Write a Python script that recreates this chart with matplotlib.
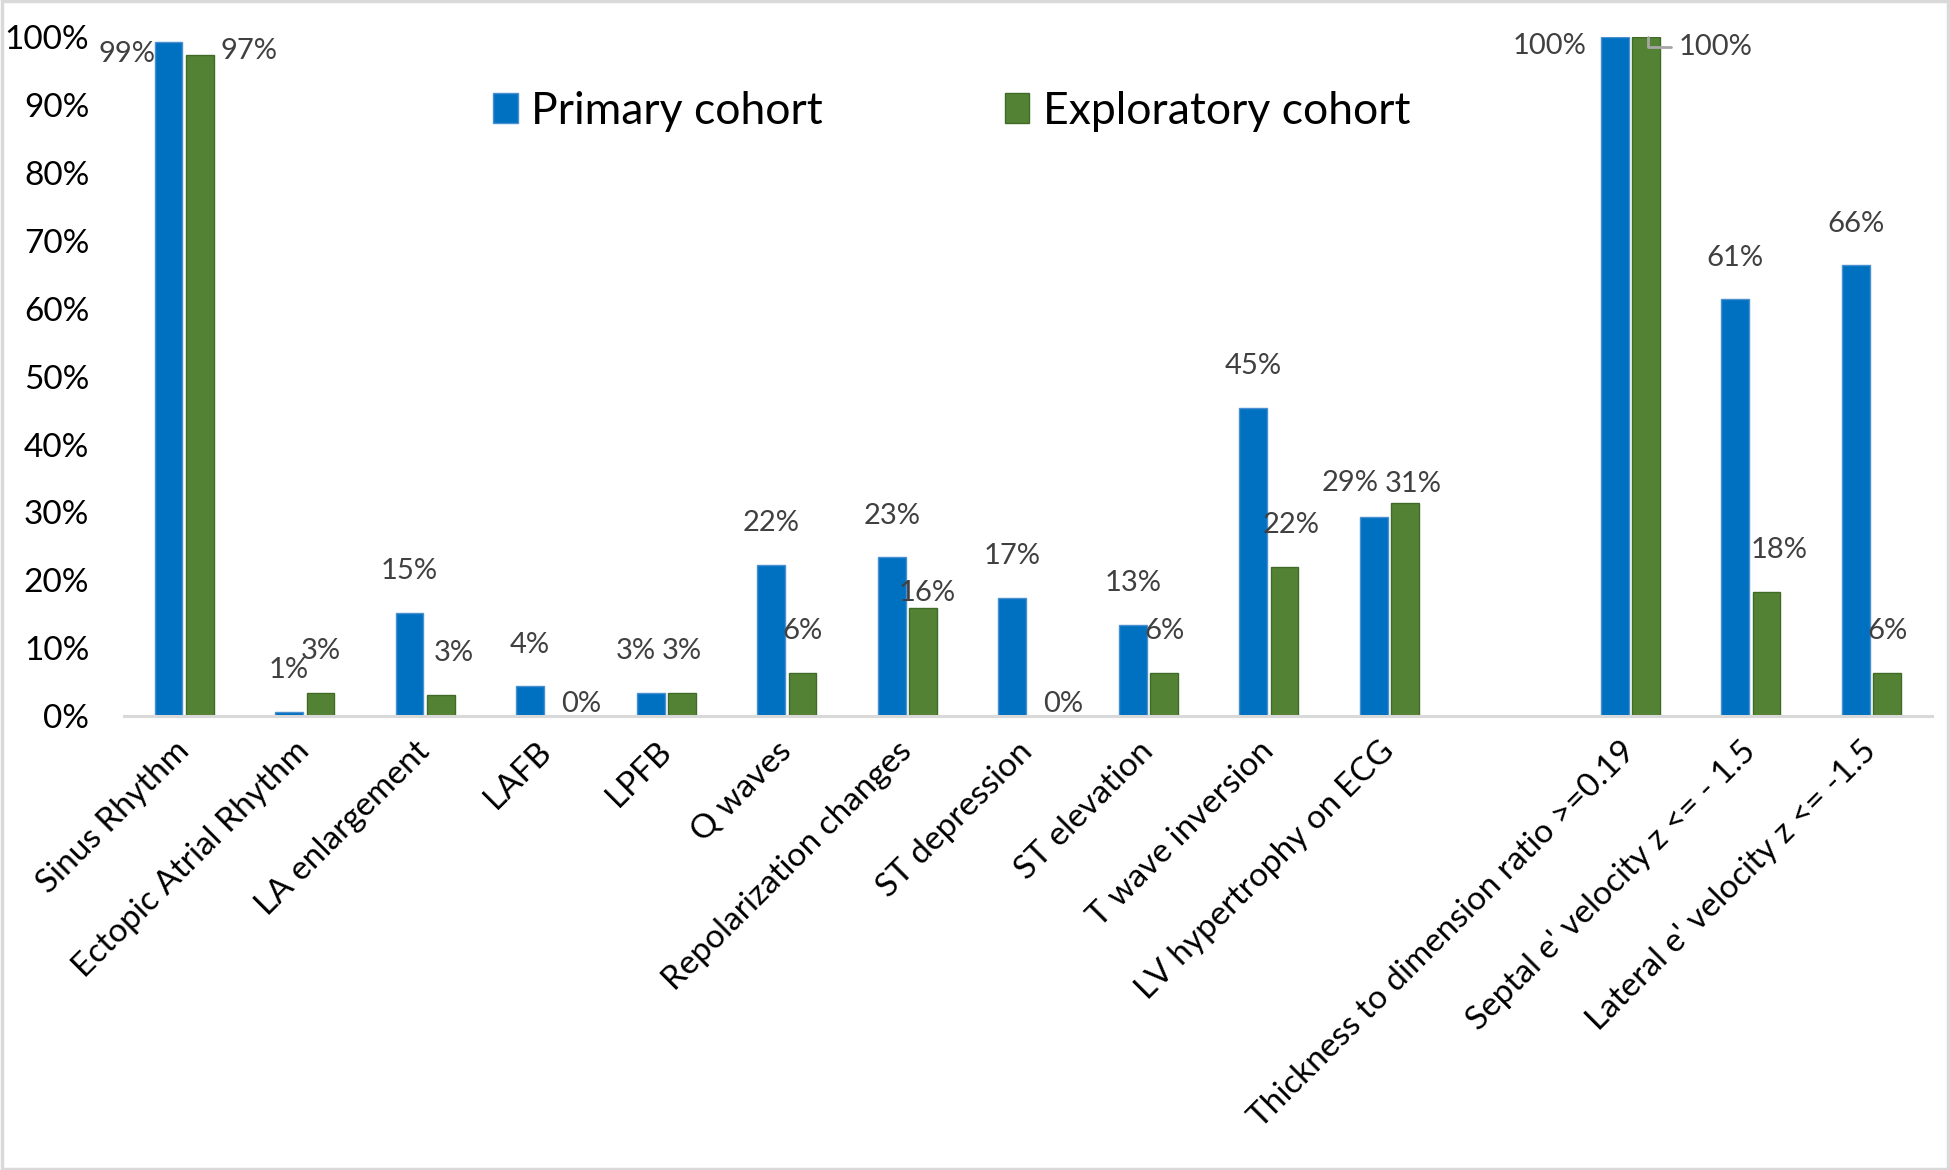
import matplotlib.pyplot as plt
import numpy as np
from matplotlib.patches import Rectangle

categories = [
    "Sinus Rhythm",
    "Ectopic Atrial Rhythm",
    "LA enlargement",
    "LAFB",
    "LPFB",
    "Q waves",
    "Repolarization changes",
    "ST depression",
    "ST elevation",
    "T wave inversion",
    "LV hypertrophy on ECG",
    "",
    "Thickness to dimension ratio >=0.19",
    "Septal e' velocity z <= - 1.5",
    "Lateral e' velocity z <= -1.5",
]
primary = [99.4, 0.6, 15.2, 4.4, 3.4, 22.3, 23.4, 17.4, 13.4, 45.4, 29.4, np.nan, 100.0, 61.4, 66.4]
exploratory = [97.4, 3.4, 3.1, 0.0, 3.4, 6.4, 15.9, 0.0, 6.4, 22.0, 31.4, np.nan, 100.0, 18.3, 6.4]
series_names = ["Primary cohort", "Exploratory cohort"]

BLUE = "#0070C0"
GREEN = "#548235"
LABEL_GREY = "#404040"

# label nudges (points) where Excel moved the label away from the default spot
label_moves = {
    (0, 0): (-30, -9),
    (1, 0): (35, 3),
    (1, 2): (9, 30),
    (1, 3): (14, 9),
    (0, 4): (-11, 30),
    (1, 7): (14, 9),
    (1, 6): (3, 11),
    (0, 10): (-17, 24),
    (1, 10): (6, 14),
    (1, 9): (5, 30),
    (0, 12): (-47, -6),
    (1, 13): (9, 30),
}
leader_label = (1, 12)


def main() -> None:
    plt.rcParams["font.family"] = ["Lato", "DejaVu Sans"]
    fig = plt.figure(figsize=(19.5, 11.7), dpi=100)
    ax = fig.add_axes([0.0636, 0.388, 0.927, 0.580])

    x = np.arange(len(categories))
    width = 0.23
    offsets = [-0.13, 0.13]
    colors = [BLUE, GREEN]
    edges = ["#4A90D0", "#3F6B26"]
    all_vals = [primary, exploratory]

    for s, vals in enumerate(all_vals):
        v = np.array(vals, dtype=float) / 100.0
        ax.bar(x + offsets[s], v, width, color=colors[s], edgecolor=edges[s],
               linewidth=1.0, label=series_names[s], zorder=3)
        for i, val in enumerate(vals):
            if np.isnan(val) or (s, i) == leader_label:
                continue
            dx, dy = label_moves.get((s, i), (0, 30))
            ax.annotate(f"{round(val):.0f}%", (x[i] + offsets[s], val / 100.0),
                        xytext=(dx, dy), textcoords="offset points",
                        ha="center", va="center", fontsize=21, color=LABEL_GREY)

    # exploratory 100% label sits beside its bar with a leader line
    s, i = leader_label
    val = all_vals[s][i]
    ax.annotate(f"{round(val):.0f}%", (x[i] + offsets[s] + 0.02, val / 100.0),
                xytext=(48, -7), textcoords="offset points",
                ha="center", va="center", fontsize=21, color=LABEL_GREY,
                arrowprops=dict(arrowstyle="-", color="#A6A6A6", lw=2,
                                connectionstyle="angle,angleA=0,angleB=90,rad=0",
                                shrinkA=3, shrinkB=0))

    ax.set_xlim(-0.5, len(categories) - 0.5)
    ax.set_ylim(0, 1.0)
    ax.set_yticks(np.arange(0, 1.01, 0.1))
    ax.set_yticklabels([f"{int(t)}%" for t in np.arange(0, 101, 10)], fontsize=24)
    ax.set_xticks(x)
    ax.set_xticklabels(categories, rotation=45, ha="right", rotation_mode="anchor",
                       fontsize=24, va="center")
    ax.tick_params(axis="both", length=0)
    ax.tick_params(axis="y", pad=25)
    ax.tick_params(axis="x", pad=22)
    for side in ["top", "right", "left"]:
        ax.spines[side].set_visible(False)
    ax.spines["bottom"].set_color("#D9D9D9")
    ax.spines["bottom"].set_linewidth(2.2)
    ax.spines["bottom"].set_zorder(4)

    fig.legend(loc="center", bbox_to_anchor=(0.488, 0.905), ncol=2, frameon=False,
               fontsize=32, handlelength=0.55, handleheight=0.65, handletextpad=0.3,
               columnspacing=4.1)

    fig.add_artist(Rectangle((0.001, 0.001), 0.998, 0.998, transform=fig.transFigure,
                             fill=False, edgecolor="#D9D9D9", linewidth=2.5))

    fig.savefig("out.png", dpi=100)


if __name__ == "__main__":
    main()
